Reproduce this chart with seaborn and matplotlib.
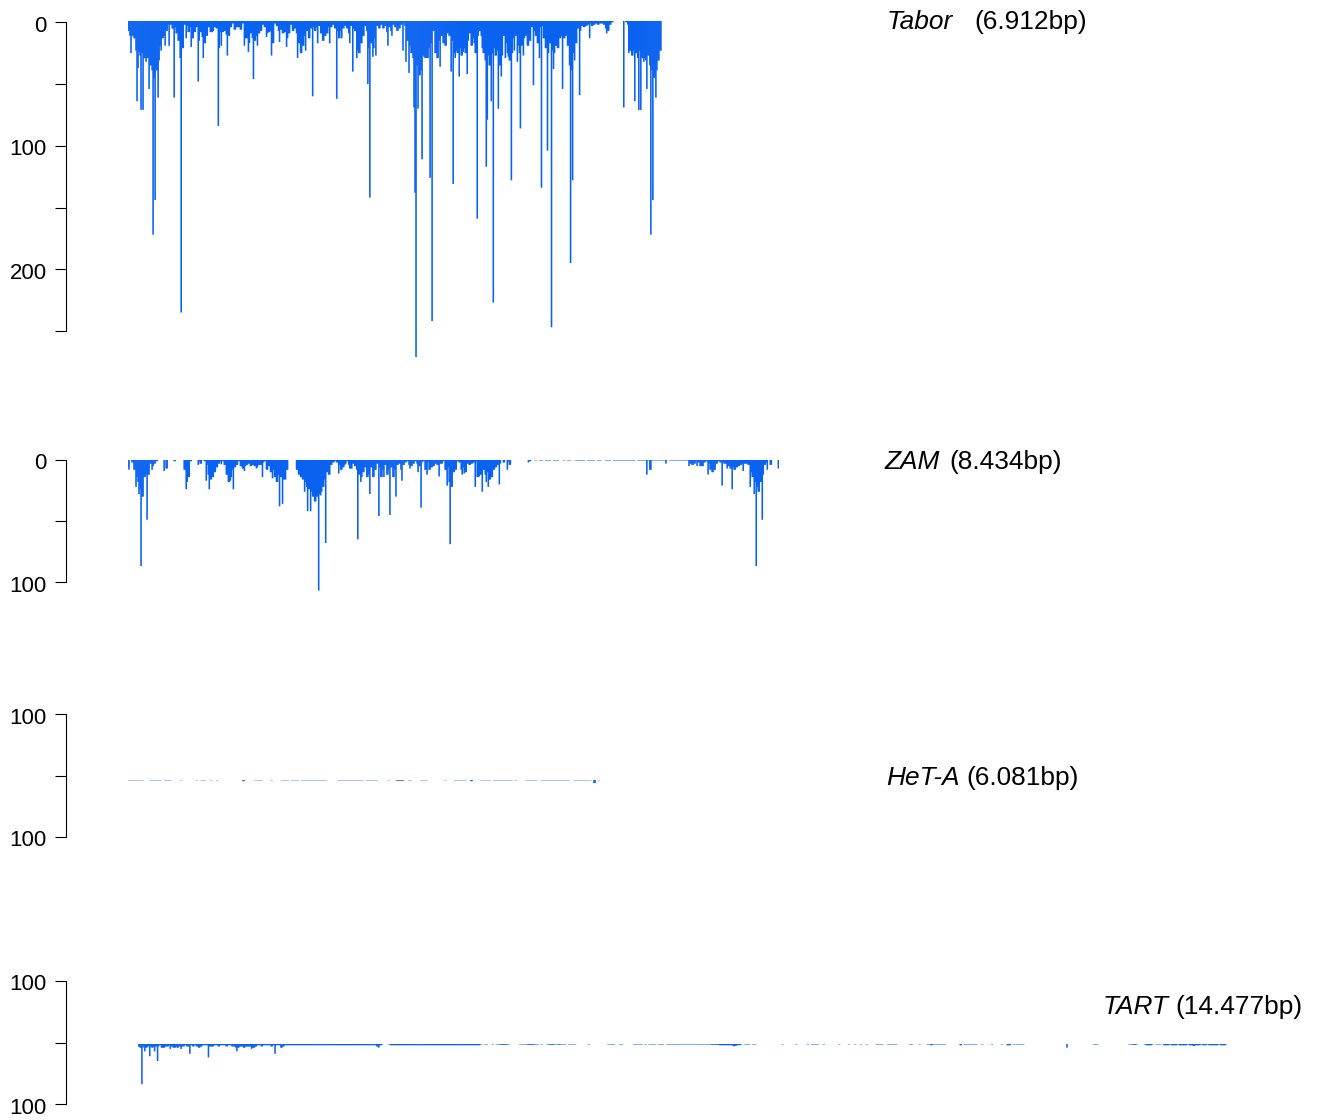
import numpy as np
import pandas as pd
import matplotlib
matplotlib.use("Agg")
import matplotlib.pyplot as plt
from matplotlib.transforms import ScaledTranslation
import seaborn as sns

W, H = 1319, 1120
BLUE = "#0a62f0"

# -----------------------------
# Read coverage, one track per element
# *_fill = value every 2 bins, *_peak_pos / *_peak_val = single spikes
# -----------------------------

tabor_len = 6912
tabor_fill = [
    8,12,12,14,24,25,28,26,30,30,30,36,40,46,40,32,20,14,12,8,
    3,3,6,5,10,16,30,22,3,4,9,5,14,9,5,16,9,13,18,12,
    5,9,8,5,6,22,9,9,8,11,12,5,2,7,5,5,7,2,14,14,
    18,10,14,16,12,10,8,3,5,10,9,8,18,2,4,8,7,10,9,14,
    10,3,8,6,10,18,26,20,12,8,14,6,5,8,5,4,10,16,12,10,
    5,5,3,6,8,14,8,6,4,6,10,4,6,8,24,26,18,12,4,8,
    22,18,22,14,4,6,3,6,4,9,5,8,3,5,8,6,3,2,4,16,
    20,26,30,30,36,44,40,28,30,30,22,18,8,26,30,16,12,18,20,10,
    12,16,26,24,26,22,28,22,26,16,10,20,14,26,12,8,12,26,32,28,
    36,26,22,28,24,36,28,12,18,26,32,26,14,12,20,26,20,14,12,20,
    16,5,8,12,18,5,4,14,22,26,18,24,26,20,22,14,12,14,12,20,
    36,40,26,18,6,8,4,5,4,3,2,4,3,2,3,2,2,3,6,8,
    3,1,0,0,0,0,0,0,1,3,24,28,24,26,30,24,30,30,32,28,
    36,40,46,40,32,24,14,6,
]
tabor_peak_pos = [
    39,117,142,177,203,242,285,328,359,401,436,488,544,609,690,764,829,910,980,1101,
    1175,1213,1299,1515,1567,1632,1680,1796,1865,1968,2063,2198,2240,2305,2400,2464,2616,2707,2780,2875,
    2923,2970,3117,3138,3177,3215,3367,3419,3500,3574,3609,3652,3708,3726,3739,3768,3816,3846,3924,3946,
    3989,4050,4114,4192,4213,4248,4299,4342,4403,4494,4529,4601,4653,4662,4718,4736,4800,4843,4895,4938,
    4969,5012,5051,5089,5128,5206,5258,5335,5365,5443,5491,5517,5633,5733,5763,5789,5850,5983,6212,6432,
    6492,6566,6622,6648,6687,6731,6774,6804,6843,6882,
]
tabor_peak_val = [
    26,65,38,72,72,33,55,173,145,62,24,20,20,62,236,14,21,49,30,9,
    85,20,28,20,25,47,20,13,28,17,21,30,26,24,61,18,18,63,14,18,
    41,30,51,143,29,28,20,12,6,24,33,42,70,139,272,71,112,29,127,243,
    18,37,16,41,132,30,45,25,43,18,160,22,118,80,65,228,71,45,30,29,
    129,24,33,87,28,14,52,30,135,105,248,39,55,196,129,32,60,14,10,70,
    26,65,72,72,33,55,173,145,62,24,
]

zam_len = 8434
zam_fill = [
    6,0,2,8,14,18,24,30,14,12,
    12,3,5,3,1,0,0,0,0,7,
    0,0,0,1,0,0,0,0,8,18,
    14,1,0,0,0,1,3,0,1,4,
    12,16,14,10,6,3,1,1,4,12,
    18,14,8,6,4,1,5,7,5,4,
    3,5,4,5,6,4,4,2,1,8,
    5,10,8,14,18,12,14,16,16,8,
    0,0,0,0,8,12,14,16,18,22,
    24,26,30,34,30,28,26,22,16,10,
    12,4,2,1,2,4,8,6,3,1,
    4,7,3,5,8,12,14,10,6,14,
    12,6,14,8,3,6,14,8,4,12,
    8,6,14,8,4,3,8,4,2,1,
    4,5,3,1,3,5,2,1,8,2,
    8,6,5,3,4,3,3,1,8,6,
    18,22,10,8,1,2,8,6,10,3,
    4,3,2,1,14,12,12,8,12,10,
    16,14,8,6,4,3,0,2,0,1,
    4,0,0,0,0,0,0,0,0,0,
    1,0,0,.3,0,.3,.3,0,.3,.3,
    .3,0,.3,.3,.3,0,0,.3,0,.3,
    .3,0,0,.3,.3,.3,.3,.3,0,.3,
    .3,.3,.3,0,.3,.3,0,0,.3,.3,
    .3,0,.3,.3,.3,.3,.3,.3,.3,.3,
    .3,.3,.3,0,.3,.3,.3,.3,.3,.3,
    8,.3,.3,.3,.3,.3,.3,.3,.3,0,
    .3,.3,.3,.3,.3,.3,.3,.3,.3,.3,
    3,4,3,1,2,5,5,2,1,3,
    8,10,8,3,1,2,2,3,3,5,
    7,6,8,6,5,4,3,3,3,4,
    10,14,18,22,26,18,12,4,2,0,
    4,0,0,0,.3,7,
]
zam_peak_pos = [
    13,104,146,172,255,320,475,760,919,1019,1062,1221,1330,1373,1515,1667,1752,1874,1972,2003,
    2046,2192,2296,2335,2370,2418,2473,2508,2568,2732,2810,2875,2979,3026,3143,3260,3315,3397,3480,3557,
    3661,3768,3803,3881,4040,4140,4179,4222,4329,4364,4503,4558,4601,4645,4679,4814,4921,5193,6730,6976,
    7278,7378,7525,7701,7770,7831,7973,8064,8120,8142,8223,8284,8427,
]
zam_peak_val = [
    8,22,28,87,49,8,9,24,4,17,24,3.5,17,24,9,7,14,15,38,36,
    16,7,26,42,42,19,107,29,68,11,4,7,65,18,28,46,14,45,30,17,
    7,10,39,12,13.5,21,69,10,12,11,22,13.5,26,18,22,20,8,2,12,3,
    5,5,12,21,7,24,9,22,28,87,49,8,7,
]

heta_len = 6081
heta_fill = [
    .2,.2,.2,.2,.2,.2,.2,.2,0,0,0,.2,.2,.2,.2,.2,.2,0,.2,.2,
    .2,.2,0,0,0,0,.2,0,0,0,0,0,0,0,.2,0,.2,.2,.2,0,
    0,.2,0,0,.2,0,0,0,0,0,0,0,0,0,0,0,0,1,0,0,
    0,0,0,.2,.2,.2,.2,0,0,0,0,.2,0,0,0,0,.2,.2,.2,.2,
    0,.2,.2,.2,.2,0,.2,.2,.2,.2,.2,.2,.2,.2,.2,.2,.2,.2,.2,0,
    0,0,0,0,.2,.2,.2,.2,.2,.2,.2,.2,.2,.2,.2,.2,.2,0,.2,.2,
    .2,.2,.2,.2,0,0,0,0,0,.2,0,0,0,.5,.5,.5,.5,0,0,.2,
    .2,0,0,0,0,.2,.2,.2,.2,0,0,0,0,0,0,0,0,.2,0,0,
    0,0,.2,.2,.2,.2,.2,.2,0,0,1,0,0,0,0,.2,.2,.2,.2,.2,
    0,.2,.2,.2,.2,.2,.2,.2,.2,.2,.2,0,.2,0,0,0,0,.2,.2,.2,
    .2,.2,.2,0,0,.2,.2,.2,.2,.2,.2,.2,.2,.2,.2,.2,.2,.2,.2,0,
    0,.2,.2,.2,.2,.2,.2,.2,.2,.2,0,2.5,0,.2,.2,.2,.2,
]
heta_peak_pos = []
heta_peak_val = []

tart_len = 14477
tart_fill = [
    2,3,3,2,3,2,2,3,2,2,2,1,3,3,2,2,1,2,3,2,3,2,2,2,1,
    2,2,1,2,1,2,3,2,1,1,1,2,2,2,1,1,2,1,1,1,2,1,1,2,2,
    3,3,2,2,3,2,2,2,3,3,2,1,1,2,1,1,1,1,2,1,1,1,1,3,2,
    1,1,1,1,1,1,1,1,1,1,1,1,1,1,1,1,1,1,1,1,1,1,1,1,1,
    1,1,1,1,1,1,1,1,1,1,1,1,1,1,1,1,1,1,1,1,1,1,2,1,1,
    0,0,0,.3,1,1,1,1,1,1,1,1,1,1,1,1,1,1,1,1,1,1,1,1,1,
    1,1,1,1,1,1,1,1,1,1,1,1,1,1,1,1,1,1,1,1,1,1,1,1,1,
    .3,0,.3,.3,0,0,.3,0,.3,.3,.6,.6,.6,.6,.3,0,0,0,0,0,.3,.3,.3,.3,.6,
    .6,.6,.6,.3,.3,0,.3,0,0,.3,.6,.6,.6,.3,.3,.6,.3,.3,.3,0,.3,.3,.3,.3,0,
    0,0,0,0,0,.3,0,0,0,0,0,0,0,0,0,.3,.3,.3,.3,0,0,.3,.3,0,0,
    0,0,0,.3,.3,.3,.3,.3,0,.3,0,.3,.3,.3,.3,0,.3,.3,.3,0,.3,.3,.3,.3,.3,
    .3,.3,.3,.3,.3,.3,.3,.3,.3,.3,.3,.3,.3,.3,.3,.3,.3,.3,.6,.6,.6,.6,1,1,1,
    1,1,1,1,1.5,1.5,1,1,.3,0,.3,.3,.3,0,.3,.3,0,0,0,0,0,0,0,0,0,
    0,0,0,0,.3,0,0,0,0,0,0,.3,0,0,0,0,0,.3,0,.3,.3,.3,.3,0,0,
    .3,0,0,0,0,0,0,0,.3,0,0,0,0,.3,0,0,.3,0,0,.3,0,0,.3,0,0,
    0,0,.3,.3,.3,.3,0,0,.3,.3,.3,.3,.3,0,0,0,0,0,0,.3,.3,0,0,0,.3,
    0,0,0,.3,.3,1,.3,.3,.3,.3,.3,.3,.3,0,0,0,0,0,0,0,1,0,.3,.3,.3,
    .3,.3,.3,.3,0,0,.3,0,0,0,0,.3,0,0,0,0,.3,0,0,1,1,0,.3,.3,.3,
    .3,.3,.3,0,0,0,0,0,0,0,0,0,0,0,0,0,0,0,0,0,0,0,0,0,0,
    0,0,0,0,0,0,0,0,0,0,0,0,0,.3,.3,.3,0,0,0,0,0,0,0,0,0,
    0,0,0,0,0,0,.3,.3,.6,.6,.3,0,0,0,.3,1,1,1,.3,0,.3,.3,.3,0,1,
    1,1,.3,1,1,1,.3,1,1,1,1,.3,1,1,1.5,1,1,1,.3,1,1,.3,1,1,1,
    1,1,.3,1,1,1,
]
tart_peak_pos = [53,102,163,226,262,323,434,501,584,691,943,1324,1518,1829,3204,7928,12337]
tart_peak_val = [33,6,10,6,14,3,4,3,4,8,11,6,4,8,3,2,3]

# tick values of each scale
tabor_ticks = [0,50,100,150,200,250]
tabor_tick_labels = ["0","","100","","200",""]
zam_ticks = [0,50,100]
zam_tick_labels = ["0","","100"]
het_ticks = [100,0,-100]
het_tick_labels = ["100","","100"]

# -----------------------------
# Figure
# -----------------------------

sns.set_theme(style="white")
plt.rcParams["font.family"] = ["Liberation Sans", "DejaVu Sans"]

fig = plt.figure(figsize=(W / 100, H / 100), dpi=100)


def px_axes(left, top, width, height):
    return fig.add_axes([left / W, 1 - (top + height) / H, width / W, height / H])


def make_table(length, fill, peak_pos, peak_val, bin_bp=13):
    pos = np.arange(0, length, bin_bp)
    depth = np.zeros(len(pos))
    for i, v in enumerate(fill):
        depth[i * 2:i * 2 + 2] = v
    for p, v in zip(peak_pos, peak_val):
        k = min(p // bin_bp, len(pos) - 1)
        depth[k] = max(depth[k], v)
    return pd.DataFrame({"position": pos, "depth": depth})


def draw_track(table, length, left, baseline, px_per_bp, px_per_unit, max_depth):
    ax = px_axes(left, baseline, length * px_per_bp, max_depth * px_per_unit)
    sns.barplot(data=table, x="position", y="depth", native_scale=True, color=BLUE,
                saturation=1, width=1.6, linewidth=0, errorbar=None, ax=ax)
    # no pixel snapping, thin bars should stay soft like in the original
    for bar in ax.patches:
        bar.set_snap(False)
    ax.set_xlim(0, length)
    ax.set_ylim(max_depth, 0)
    ax.axis("off")
    ax.patch.set_alpha(0)


def draw_scale(top, bottom, ymin, ymax, ticks, labels):
    ax = px_axes(66, top, 1, bottom - top)
    ax.set_ylim(ymax, ymin)
    ax.set_xlim(0, 1)
    ax.set_yticks(ticks)
    ax.set_yticklabels(labels)
    ax.set_xticks([])
    ax.tick_params(axis="y", left=True, length=8, width=0.8, pad=6, labelsize=16, color="black", labelcolor="black")
    nudge = ScaledTranslation(0, -1.5 / 100, fig.dpi_scale_trans)
    for t in ax.get_yticklabels():
        t.set_transform(t.get_transform() + nudge)
    for side in ["top", "right", "bottom"]:
        ax.spines[side].set_visible(False)
    ax.spines["left"].set_color("black")
    ax.spines["left"].set_linewidth(0.8)
    ax.patch.set_alpha(0)


def label(x_name, x_size, y, name, size):
    fig.text(x_name / W, 1 - y / H, name, style="italic", fontsize=18.9, va="center", color="black")
    fig.text(x_size / W, 1 - y / H, size, fontsize=18.9, va="center", color="black")


draw_track(make_table(tabor_len, tabor_fill, tabor_peak_pos, tabor_peak_val),
           tabor_len, 128, 21, 0.0772, 1.235, 280)
draw_scale(22.3, 331, 0, 250, tabor_ticks, tabor_tick_labels)
label(887, 974, 22, "Tabor", "(6.912bp)")

draw_track(make_table(zam_len, zam_fill, zam_peak_pos, zam_peak_val),
           zam_len, 128, 460, 0.0772, 1.22, 110)
draw_scale(459.5, 582, 0, 100, zam_ticks, zam_tick_labels)
label(885, 949, 462, "ZAM", "(8.434bp)")

draw_track(make_table(heta_len, heta_fill, heta_peak_pos, heta_peak_val),
           heta_len, 128, 780, 0.0776, 1.22, 20)
draw_scale(714, 837, -100, 100, het_ticks, het_tick_labels)
label(886, 966, 778, "HeT-A", "(6.081bp)")

draw_track(make_table(tart_len, tart_fill, tart_peak_pos, tart_peak_val),
           tart_len, 138, 1044, 0.0753, 1.22, 50)
draw_scale(981, 1104, -100, 100, het_ticks, het_tick_labels)
label(1103, 1175, 1007, "TART", "(14.477bp)")

fig.savefig("out.png", dpi=100)
plt.close()
